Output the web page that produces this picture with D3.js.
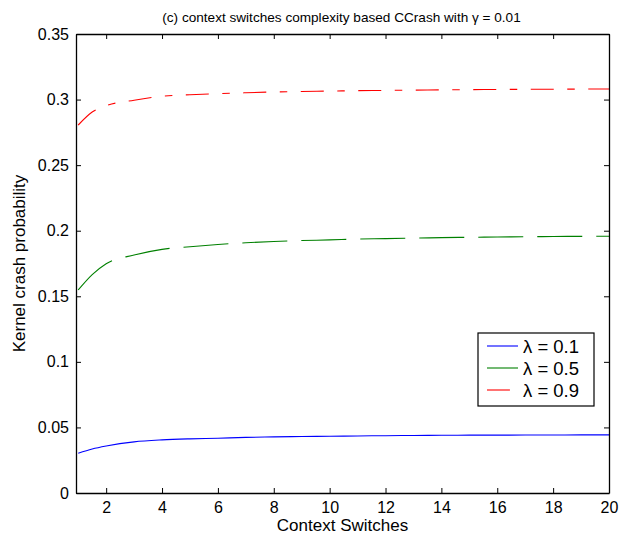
<!DOCTYPE html>
<html>
<head>
<meta charset="utf-8">
<script src="https://cdn.jsdelivr.net/npm/d3@7"></script>
<style>
  body { margin: 0; background: #fff; }
  svg { font-family: "Liberation Sans", Arial, Helvetica, sans-serif; }
</style>
</head>
<body>
<div id="chart"></div>
<script>
// context switch counts (x)
const switches = [1, 1.5, 2, 3, 4, 5, 6, 7, 8, 9, 10, 11, 12, 13, 14, 15, 16, 17, 18, 19, 20];

// kernel crash probability
const lambda01 = [0.0303, 0.0335, 0.0358, 0.0390, 0.0405, 0.0413, 0.0418, 0.0424, 0.0428, 0.0431, 0.0433,
  0.0435, 0.0437, 0.0439, 0.0440, 0.0441, 0.0441, 0.0442, 0.0442, 0.0443, 0.0443];
const lambda05 = [0.1548, 0.1665, 0.1748, 0.1815, 0.1858, 0.1878, 0.1895, 0.1908, 0.1918, 0.1925, 0.1930,
  0.1936, 0.1940, 0.1944, 0.1947, 0.1950, 0.1952, 0.1954, 0.1956, 0.1957, 0.1958];
const lambda09 = [0.2806, 0.2905, 0.2953, 0.2995, 0.3025, 0.3037, 0.3045, 0.3052, 0.3058, 0.3062, 0.3065,
  0.3068, 0.3070, 0.3072, 0.3074, 0.3076, 0.3077, 0.3078, 0.3079, 0.3080, 0.3081];

const xTicks = [2, 4, 6, 8, 10, 12, 14, 16, 18, 20];
const yTicks = [0, 0.05, 0.1, 0.15, 0.2, 0.25, 0.3, 0.35];

const series = [
  { label: 'λ = 0.1', values: lambda01, color: '#0000ff', dash: null },
  { label: 'λ = 0.5', values: lambda05, color: '#008000', dash: '45,14' },
  { label: 'λ = 0.9', values: lambda09, color: '#ff0000', dash: '23,13.5,7.5,13.5' }
];

const W = 630, H = 538;
const margin = { top: 34, right: 21, bottom: 45, left: 76 };
const width = W - margin.left - margin.right,
  height = H - margin.top - margin.bottom;

const svg = d3.select('#chart').append('svg')
  .attr('width', W).attr('height', H);

const g = svg.append('g')
  .attr('transform', 'translate(' + margin.left + ',' + margin.top + ')');

const x = d3.scaleLinear().domain([0.92, 20]).range([0, width]);
const y = d3.scaleLinear().domain([0, 0.35]).range([height, 0]);

// lines
const line = d3.line()
  .x((d, i) => x(switches[i]))
  .y(d => y(d))
  .curve(d3.curveMonotoneX);

series.forEach(function (s) {
  g.append('path')
    .datum(s.values)
    .attr('d', line)
    .attr('fill', 'none')
    .attr('stroke', s.color)
    .attr('stroke-width', 1.1)
    .attr('stroke-dasharray', s.dash);
});

// axes, ticks pointing inward like matlab
const fmt = d => String(+d.toFixed(2));

g.append('g').attr('transform', 'translate(0,' + height + ')')
  .call(d3.axisBottom(x).tickValues(xTicks).tickSizeInner(-5).tickSizeOuter(0).tickPadding(9));
g.append('g')
  .call(d3.axisTop(x).tickValues(xTicks).tickSizeInner(-5).tickSizeOuter(0).tickFormat(''));
g.append('g')
  .call(d3.axisLeft(y).tickValues(yTicks).tickSizeInner(-5).tickSizeOuter(0).tickPadding(7).tickFormat(fmt));
g.append('g').attr('transform', 'translate(' + width + ',0)')
  .call(d3.axisRight(y).tickValues(yTicks).tickSizeInner(-5).tickSizeOuter(0).tickFormat(''));

g.selectAll('.domain').attr('stroke', '#000').attr('stroke-width', 1.3);
g.selectAll('.tick line').attr('stroke', '#000');
g.selectAll('.tick text').attr('fill', '#000').style('font-size', '16px');

// title and axis labels
svg.append('text')
  .attr('x', margin.left + width / 2 - 1).attr('y', 22)
  .attr('text-anchor', 'middle')
  .style('font-size', '13.6px')
  .text('(c) context switches complexity based CCrash with γ = 0.01');

svg.append('text')
  .attr('x', margin.left + width / 2).attr('y', 531)
  .attr('text-anchor', 'middle')
  .style('font-size', '17px')
  .text('Context Switches');

svg.append('text')
  .attr('transform', 'translate(25,' + (margin.top + height / 2) + ') rotate(-90)')
  .attr('text-anchor', 'middle')
  .style('font-size', '17px')
  .text('Kernel crash probability');

// legend
const legend = svg.append('g').attr('transform', 'translate(478,333)');
legend.append('rect')
  .attr('width', 116).attr('height', 73)
  .attr('fill', '#fff').attr('stroke', '#000').attr('stroke-width', 1.2);

series.forEach(function (s, i) {
  const row = legend.append('g').attr('transform', 'translate(0,' + (13 + i * 22) + ')');
  row.append('line')
    .attr('x1', 9).attr('x2', 40)
    .attr('stroke', s.color).attr('stroke-width', 1.1)
    .attr('stroke-dasharray', s.dash);
  row.append('text')
    .attr('x', 45).attr('y', 6.5)
    .style('font-size', '18.5px')
    .text(s.label);
});
</script>
</body>
</html>
